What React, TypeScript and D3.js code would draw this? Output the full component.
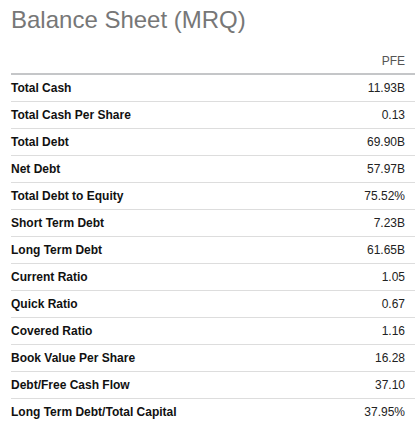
import * as d3 from "d3";

const title = "Balance Sheet (MRQ)";
const ticker = "PFE";

const metrics = [
  "Total Cash",
  "Total Cash Per Share",
  "Total Debt",
  "Net Debt",
  "Total Debt to Equity",
  "Short Term Debt",
  "Long Term Debt",
  "Current Ratio",
  "Quick Ratio",
  "Covered Ratio",
  "Book Value Per Share",
  "Debt/Free Cash Flow",
  "Long Term Debt/Total Capital",
];

const values = [
  "11.93B",
  "0.13",
  "69.90B",
  "57.97B",
  "75.52%",
  "7.23B",
  "61.65B",
  "1.05",
  "0.67",
  "1.16",
  "16.28",
  "37.10",
  "37.95%",
];

const W = 415;
const H = 433;
const left = 11;
const right = 405;
const tableTop = 74;
const rowH = 27;

export default function App() {
  const y = d3
    .scaleBand<string>()
    .domain(metrics)
    .range([tableTop, tableTop + rowH * metrics.length])
    .padding(0);

  return (
    <svg
      width={W}
      height={H}
      style={{ position: "absolute", left: 0, top: 0, background: "#fff" }}
      fontFamily="Arial, 'Liberation Sans', sans-serif"
    >
      <text x={left} y={28} fontSize={24} fill="#777">
        {title}
      </text>
      <text x={right} y={65} fontSize={12} fill="#555" textAnchor="end">
        {ticker}
      </text>
      <line x1={left} x2={W} y1={tableTop} y2={tableTop} stroke="#8a8d91" strokeWidth={1} />
      {metrics.map((m, i) => {
        const y0 = y(m) ?? 0;
        return (
          <g key={m}>
            <text x={left} y={y0 + 18} fontSize={12} fontWeight="bold" fill="#111">
              {m}
            </text>
            <text x={right} y={y0 + 18} fontSize={12} fill="#222" textAnchor="end">
              {values[i]}
            </text>
            {i < metrics.length - 1 && (
              <line
                x1={left}
                x2={W}
                y1={y0 + y.bandwidth() + 0.5}
                y2={y0 + y.bandwidth() + 0.5}
                stroke="#ddd"
                strokeWidth={1}
              />
            )}
          </g>
        );
      })}
    </svg>
  );
}
